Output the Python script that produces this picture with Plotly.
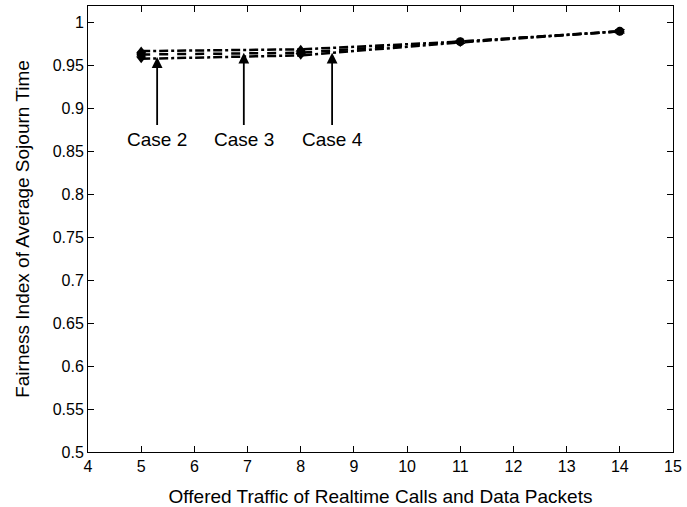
import plotly.graph_objects as go

x_vals = [5, 8, 11, 14]
case_a = [0.967, 0.969, 0.978, 0.990]
case_b = [0.963, 0.965, 0.978, 0.990]
case_c = [0.958, 0.962, 0.977, 0.990]

x_ticks = list(range(4, 16))
y_ticks = [0.5, 0.55, 0.6, 0.65, 0.7, 0.75, 0.8, 0.85, 0.9, 0.95, 1.0]
y_tick_labels = ["0.5", "0.55", "0.6", "0.65", "0.7", "0.75", "0.8", "0.85", "0.9", "0.95", "1"]

ann_labels = ["Case 2", "Case 3", "Case 4"]
ann_x = [5.30, 6.93, 8.59]
ann_tip_y = [0.960, 0.965, 0.965]
ann_text_y = 0.8645
ann_tail_y = 0.879

FONT = "Liberation Sans, Arial, sans-serif"

fig = go.Figure()
series = [
    (case_a, "triangle-up", "dashdot"),
    (case_b, "circle", "dash"),
    (case_c, "triangle-down", "dashdot"),
]
for vals, sym, dash in series:
    fig.add_trace(go.Scatter(
        x=x_vals, y=vals, mode="lines+markers",
        line=dict(color="black", width=2.5, dash=dash),
        marker=dict(symbol=sym, size=9, color="black"),
        showlegend=False,
    ))

for lab, ax_, ty in zip(ann_labels, ann_x, ann_tip_y):
    fig.add_annotation(
        x=ax_, y=ty, ax=ax_, ay=ann_tail_y, xref="x", yref="y", axref="x", ayref="y",
        text="", showarrow=True, arrowhead=2, arrowsize=1.2, arrowwidth=1.8, arrowcolor="black",
    )
    fig.add_annotation(
        x=ax_, y=ann_text_y, xref="x", yref="y", text=lab, showarrow=False,
        font=dict(family=FONT, size=19, color="black"),
    )

axis_common = dict(
    showline=True, linecolor="black", linewidth=1, mirror="allticks",
    ticks="inside", ticklen=6, tickcolor="black", showgrid=False, zeroline=False,
    automargin=False,
    tickfont=dict(family=FONT, size=16, color="black"),
)
fig.update_xaxes(
    range=[4, 15], tickvals=x_ticks,
    title=dict(text="Offered Traffic of Realtime Calls and Data Packets",
               font=dict(family=FONT, size=19, color="black"),
               standoff=16),
    **axis_common,
)
fig.update_yaxes(
    range=[0.5, 1.0195], tickvals=y_ticks, ticktext=y_tick_labels,
    title=dict(text="Fairness Index of Average Sojourn Time",
               font=dict(family=FONT, size=19, color="black"),
               standoff=18),
    **axis_common,
)
fig.update_layout(
    width=687, height=507,
    margin=dict(l=88, r=14, t=6, b=55),
    plot_bgcolor="white", paper_bgcolor="white",
)
fig.write_html("out.html", config={"displayModeBar": False},
               post_script="document.body.style.margin='0';")
